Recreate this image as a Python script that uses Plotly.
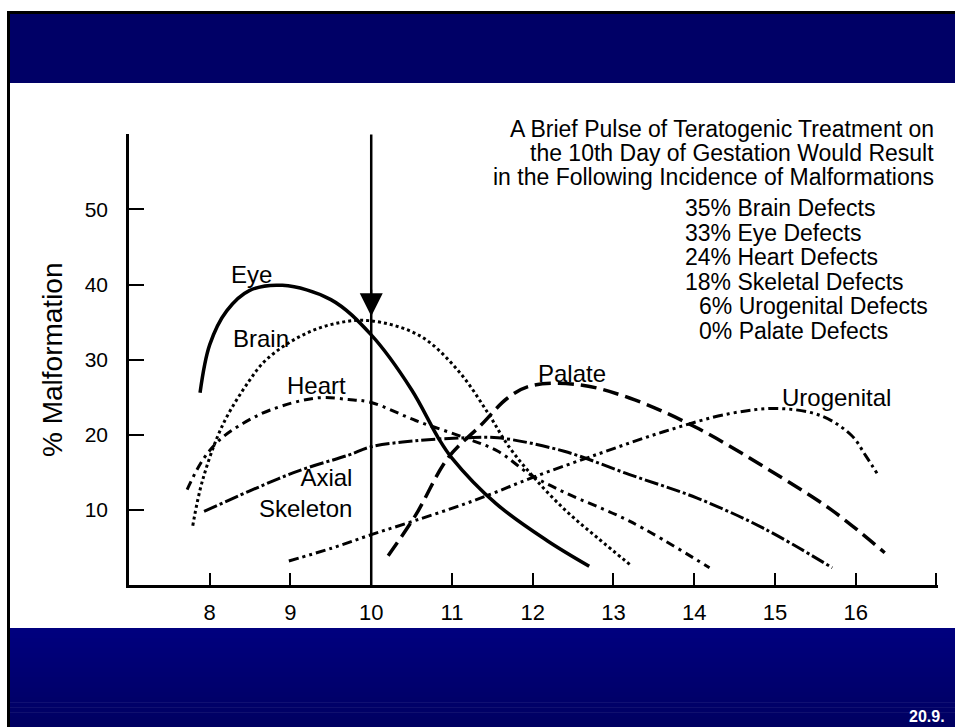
import plotly.graph_objects as go

# ---------------- data ----------------
eye_x = [7.88, 8.0, 8.21, 8.49, 8.9, 9.5, 10.0, 10.5, 10.83, 11.0, 11.55, 12.18, 12.7]
eye_y = [25.6, 32.0, 36.5, 39.2, 39.9, 38.0, 33.3, 26.0, 19.6, 16.9, 10.8, 5.9, 2.5]

brain_x = [7.79, 7.91, 8.16, 8.49, 8.7, 9.1, 9.51, 9.97, 10.6, 11.08, 11.44, 11.7, 12.0, 12.4, 12.8, 13.23]
brain_y = [7.9, 13.9, 21.3, 27.2, 30.0, 33.0, 34.7, 35.2, 33.2, 28.5, 23.0, 18.5, 14.5, 10.0, 6.3, 2.5]

heart_x = [7.72, 7.91, 8.12, 8.41, 8.75, 9.32, 9.72, 10.0, 10.55, 11.16, 11.57, 11.97, 12.4, 13.2, 14.19]
heart_y = [12.7, 16.6, 19.3, 21.5, 23.3, 24.9, 24.7, 24.3, 21.9, 19.6, 17.8, 14.7, 12.3, 8.5, 2.3]

axial_x = [7.93, 8.49, 9.1, 9.72, 10.0, 10.55, 11.16, 11.57, 12.39, 13.2, 14.03, 14.85, 15.71]
axial_y = [9.8, 12.5, 15.2, 17.3, 18.4, 19.2, 19.6, 19.6, 17.8, 14.7, 11.6, 7.6, 2.3]

palate_x = [10.21, 10.55, 10.95, 11.36, 11.69, 11.97, 12.55, 13.2, 14.02, 14.87, 15.7, 16.36]
palate_y = [3.9, 9.3, 16.9, 21.3, 24.9, 26.5, 26.7, 24.9, 21.0, 15.7, 10.0, 4.3]

uro_x = [8.98, 9.51, 10.0, 10.55, 11.16, 11.53, 11.97, 12.8, 13.62, 14.43, 15.05, 15.58, 15.95, 16.12, 16.28]
uro_y = [3.2, 4.9, 6.7, 8.6, 10.8, 12.3, 14.2, 17.4, 20.4, 22.8, 23.5, 22.5, 19.9, 17.3, 14.6]

x_ticks = [8, 9, 10, 11, 12, 13, 14, 15, 16, 17]
x_tick_labels = ["8", "9", "10", "11", "12", "13", "14", "15", "16", ""]
y_ticks = [10, 20, 30, 40, 50, 60]
y_tick_labels = ["10", "20", "30", "40", "50", ""]

treatment_day = 10
arrow_tip = 35.8

title_lines = [
    "A Brief Pulse of Teratogenic Treatment on",
    "the 10th Day of Gestation Would Result",
    "in the Following Incidence of Malformations",
]
incidence_lines = [
    "35% Brain Defects",
    "33% Eye Defects",
    "24% Heart Defects",
    "18% Skeletal Defects",
    "6% Urogenital Defects",
    "0% Palate Defects",
]

FONT = "Liberation Sans, Arial, Helvetica, sans-serif"

# ---------------- geometry helpers (layout only) ----------------
W, H = 955, 727
ML, MR, MT, MB = 129, 17, 134, 142
PW = W - ML - MR
PH = H - MT - MB


def px_x(p):
    return (p - ML) / PW


def px_y(p):
    return (H - MB - p) / PH


fig = go.Figure()

common = dict(mode="lines", line_shape="spline", hoverinfo="skip", showlegend=False)
fig.add_trace(go.Scatter(x=eye_x, y=eye_y, line=dict(color="black", width=3.5), **common))
fig.add_trace(go.Scatter(x=brain_x, y=brain_y, line=dict(color="black", width=3, dash="dot"), **common))
fig.add_trace(go.Scatter(x=heart_x, y=heart_y, line=dict(color="black", width=3, dash="9px,5px,3px,5px"), **common))
fig.add_trace(go.Scatter(x=axial_x, y=axial_y, line=dict(color="black", width=3, dash="14px,3px,3px,3px"), **common))
fig.add_trace(go.Scatter(x=palate_x, y=palate_y, line=dict(color="black", width=3.5, dash="16px,7px"), **common))
fig.add_trace(go.Scatter(x=uro_x, y=uro_y, line=dict(color="black", width=3, dash="10px,4px,3px,4px,3px,4px"), **common))

shapes = []
# top band
shapes.append(dict(type="rect", xref="paper", yref="paper", x0=px_x(7), x1=px_x(W + 5),
                   y0=px_y(83), y1=px_y(11), fillcolor="#000066", line=dict(width=0), layer="below"))
shapes.append(dict(type="rect", xref="paper", yref="paper", x0=px_x(7), x1=px_x(W + 5),
                   y0=px_y(14), y1=px_y(11), fillcolor="#000000", line=dict(width=0), layer="below"))
# bottom band with a vertical gradient
n = 20
top_c = (0, 0, 126)
bot_c = (0, 0, 98)
for i in range(n):
    t = i / (n - 1)
    c = tuple(int(round(top_c[k] + (bot_c[k] - top_c[k]) * t)) for k in range(3))
    y_top = 628 + (H - 628) * i / n
    y_bot = 628 + (H - 628) * (i + 1) / n + 0.6
    shapes.append(dict(type="rect", xref="paper", yref="paper", x0=px_x(7), x1=px_x(W + 5),
                       y0=px_y(y_bot), y1=px_y(y_top), fillcolor="rgb(%d,%d,%d)" % c,
                       line=dict(width=0), layer="below"))
# left border line
shapes.append(dict(type="line", xref="paper", yref="paper", x0=px_x(8.5), x1=px_x(8.5),
                   y0=px_y(H + 2), y1=px_y(11), line=dict(color="black", width=3)))
# treatment-day line
shapes.append(dict(type="line", xref="x", yref="y", x0=treatment_day, x1=treatment_day,
                   y0=0, y1=60, line=dict(color="black", width=2.5)))

annotations = []
# arrow head on the treatment line
annotations.append(dict(x=treatment_day, y=arrow_tip, xref="x", yref="y", text="", showarrow=True,
                        ax=0, ay=-28, arrowhead=2, arrowsize=2.3, arrowwidth=2.0, arrowcolor="black"))

label_font = dict(family=FONT, size=24, color="black")
curve_labels = [
    ("Eye", 8.52, 41.3, "center"),
    ("Brain", 8.63, 32.8, "center"),
    ("Heart", 9.32, 26.6, "center"),
    ("Palate", 12.49, 28.2, "center"),
    ("Urogenital", 15.76, 25.0, "center"),
]
for txt, lx, ly, anc in curve_labels:
    annotations.append(dict(x=lx, y=ly, xref="x", yref="y", text=txt, showarrow=False,
                            xanchor=anc, yanchor="middle", font=label_font))
annotations.append(dict(x=9.79, y=12.3, xref="x", yref="y", text="Axial<br>Skeleton", showarrow=False,
                        xanchor="right", yanchor="middle", align="right", font=label_font))

block_font = dict(family=FONT, size=23, color="black")
title_y_px = [129, 153, 177]
for txt, yp in zip(title_lines, title_y_px):
    annotations.append(dict(x=px_x(936), y=px_y(yp), xref="paper", yref="paper", text=txt,
                            showarrow=False, xanchor="right", yanchor="middle", font=block_font))
inc_y_px = [208, 232.5, 257, 281.5, 306, 330.5]
inc_x_px = [683, 683, 683, 683, 697, 697]
for txt, xp, yp in zip(incidence_lines, inc_x_px, inc_y_px):
    annotations.append(dict(x=px_x(xp), y=px_y(yp), xref="paper", yref="paper", text=txt,
                            showarrow=False, xanchor="left", yanchor="middle", font=block_font))

# y axis title
annotations.append(dict(x=px_x(52), y=px_y(360), xref="paper", yref="paper", text="% Malformation",
                        textangle=-90, showarrow=False, xanchor="center", yanchor="middle",
                        font=dict(family=FONT, size=28, color="black")))
# slide number
annotations.append(dict(x=px_x(947), y=px_y(716), xref="paper", yref="paper", text="<b>20.9.</b>",
                        showarrow=False, xanchor="right", yanchor="middle",
                        font=dict(family=FONT, size=16, color="white")))

fig.update_layout(
    width=W, height=H,
    margin=dict(l=ML, r=MR, t=MT, b=MB, pad=0),
    paper_bgcolor="white", plot_bgcolor="white",
    shapes=shapes, annotations=annotations,
    showlegend=False,
    xaxis=dict(range=[7, 17.02], tickvals=x_ticks, ticktext=x_tick_labels, ticks="inside",
               ticklen=12, tickwidth=2, tickcolor="black", showline=True, linecolor="black",
               linewidth=2.5, showgrid=False, zeroline=False, ticklabelstandoff=6,
               tickfont=dict(family=FONT, size=22, color="black"), fixedrange=True),
    yaxis=dict(range=[0, 60.05], tickvals=y_ticks, ticktext=y_tick_labels, ticks="inside",
               ticklen=15, tickwidth=2, tickcolor="black", showline=True, linecolor="black",
               linewidth=2.5, showgrid=False, zeroline=False, ticklabelstandoff=14,
               tickfont=dict(family=FONT, size=21, color="black"), fixedrange=True),
)

fig.write_html("out.html", config={"displayModeBar": False},
               post_script="document.body.style.margin='0px';document.body.style.overflow='hidden';")
